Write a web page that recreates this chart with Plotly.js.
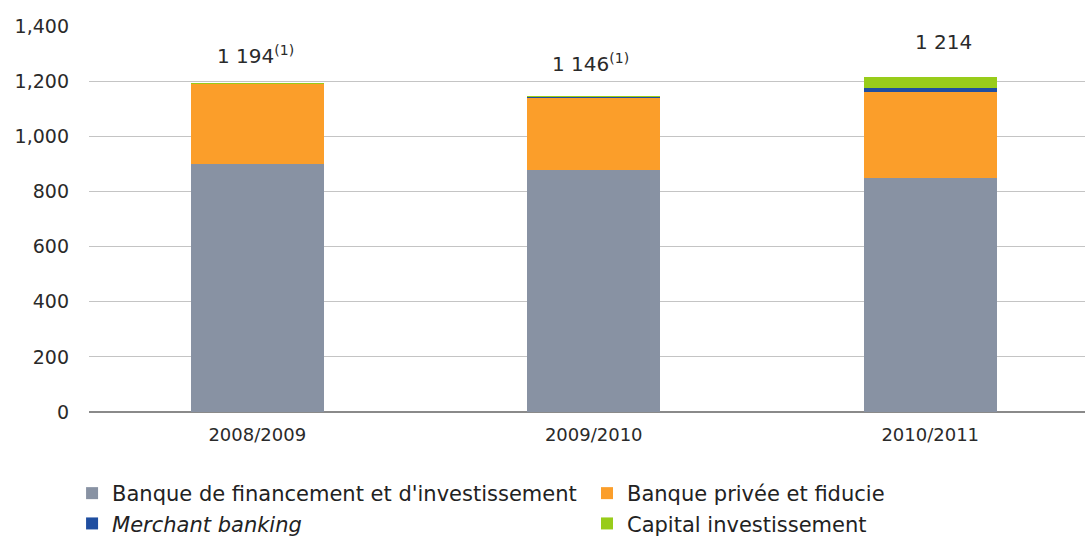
<!DOCTYPE html>
<html><head><meta charset="utf-8">
<script src="https://cdn.plot.ly/plotly-3.0.1.min.js"></script>
<style>body{margin:0;background:#fff}#c{width:1090px;height:542px}</style>
</head><body><div id="c"></div>
<script>
const categories = ["2008/2009", "2009/2010", "2010/2011"];
const bfi = [898, 876, 849];
const bpf = [291, 264, 313];
const merchant = [0, 2, 12];
const capital = [5, 4, 40];
const totalLabels = ["1 194<sup>(1)</sup>", "1 146<sup>(1)</sup>", "1 214"];
const totals = categories.map((c, i) => bfi[i] + bpf[i] + merchant[i] + capital[i]);

const names = ["Banque de financement et d'investissement", "Banque privée et fiducie", "<i>Merchant banking</i>", "Capital investissement"];
const colors = ["#8892a3", "#fb9e2a", "#1f4ea0", "#98cc1a"];
const legendIds = ["legend", "legend2", "legend", "legend2"];
const series = [bfi, bpf, merchant, capital];

const FONT = "DejaVu Sans, Liberation Sans, Arial, sans-serif";

const traces = series.map((s, k) => ({
  type: "bar", x: categories, y: s, name: names[k],
  marker: {color: colors[k], line: {width: 0}},
  width: 0.395, hoverinfo: "y+name", legend: legendIds[k]
}));

const shifts = [[-2, 28], [-3, 33], [13, 35]];
const annotations = categories.map((c, i) => ({
  x: c, y: totals[i], xref: "x", yref: "y", text: totalLabels[i],
  showarrow: false, yanchor: "middle", xshift: shifts[i][0], yshift: shifts[i][1],
  font: {family: FONT, size: 20, color: "#2a2a2a"}
}));

const legendCommon = {orientation: "v", yanchor: "top", xanchor: "left", y: -0.158,
  traceorder: "normal", font: {family: FONT, size: 21, color: "#222"},
  itemwidth: 30, bgcolor: "rgba(0,0,0,0)", tracegroupgap: 0};

const layout = {
  barmode: "stack",
  width: 1090, height: 542,
  margin: {l: 89, r: 5, t: 26, b: 130, autoexpand: false},
  paper_bgcolor: "#fff", plot_bgcolor: "#fff",
  font: {family: FONT, size: 18, color: "#2a2a2a"},
  xaxis: {range: [-0.5, 2.46], showgrid: false, zeroline: false, showline: false,
          ticks: "", tickfont: {size: 18}, ticklabelstandoff: 10, fixedrange: true},
  yaxis: {range: [0, 1400], dtick: 200, tickformat: ",d", showgrid: true,
          gridcolor: "#c4c4c4", gridwidth: 1, zeroline: true, zerolinecolor: "#8a8a8a",
          zerolinewidth: 1.5, showline: false, ticks: "", ticklabelstandoff: 19,
          tickfont: {size: 19}, fixedrange: true},
  showlegend: true,
  legend: Object.assign({}, legendCommon, {x: -0.017}),
  legend2: Object.assign({}, legendCommon, {x: 0.5}),
  annotations: annotations
};

Plotly.newPlot("c", traces, layout, {displayModeBar: false, staticPlot: true});
</script></body></html>
